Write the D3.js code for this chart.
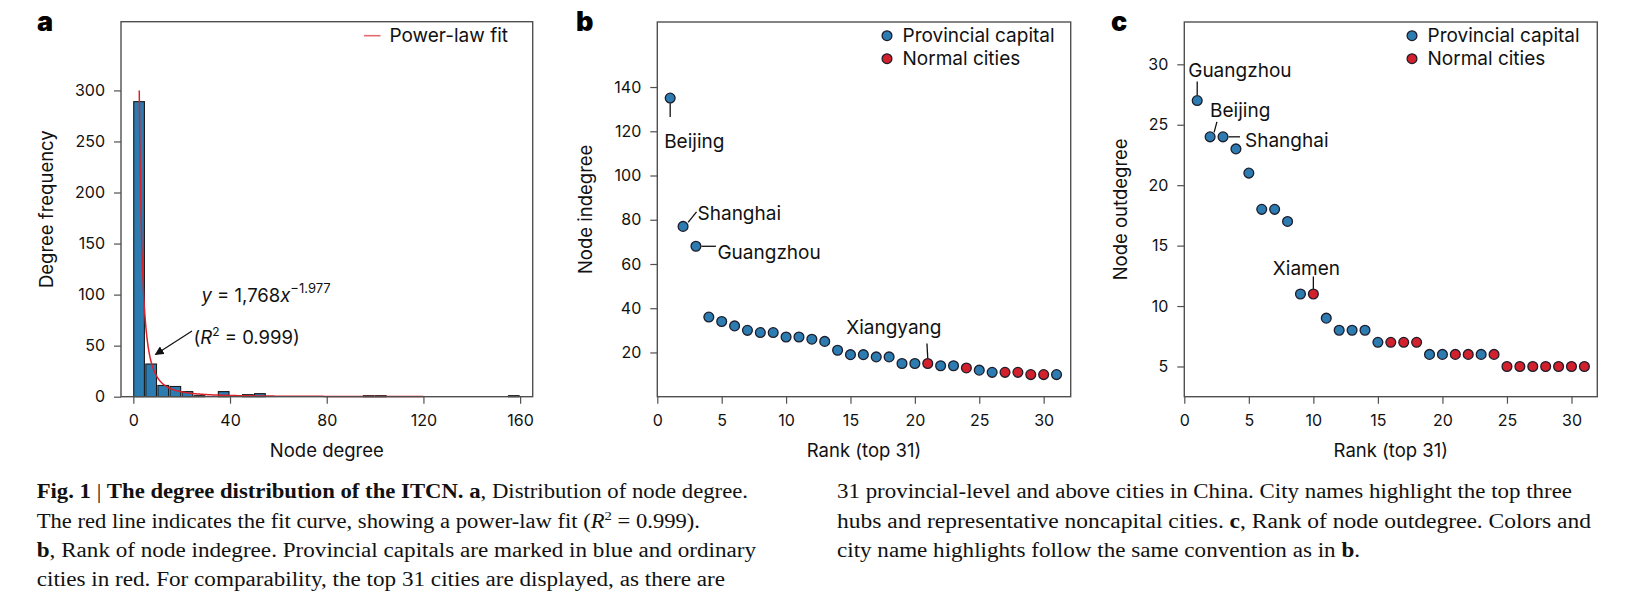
<!DOCTYPE html>
<html>
<head>
<meta charset="utf-8">
<script src="https://cdn.jsdelivr.net/npm/d3@7"></script>
<style>
  body { margin: 0; background: #fff; }
  svg { display: block; font-family: Inter, "Noto Sans", sans-serif; }
</style>
</head>
<body>
<svg id="fig" width="1625" height="601"></svg>
<script>
// ---- data ----
const binStarts = d3.range(0, 160, 5);   // bin width 5
const binCounts = [289, 32, 11, 10, 5, 1, 0, 5, 0, 2, 3, 0, 0, 0, 0, 0,
                   0, 0, 0, 1, 1, 0, 0, 0, 0, 0, 0, 0, 0, 0, 0, 1];
const fitCoef = 1768, fitExp = -1.977;
const fitTop = 300, fitEnd = 120;

const ranks = d3.range(1, 32);
const indegree = [135, 77, 68, 36, 34, 32, 30, 29, 29, 27, 27, 26, 25, 21, 19, 19,
                  18, 18, 15, 15, 15, 14, 14, 13, 12, 11, 11, 11, 10, 10, 10];
const indegreeType = ["P","P","P","P","P","P","P","P","P","P","P","P","P","P","P","P",
                      "P","P","P","P","N","P","P","N","P","P","N","N","N","N","P"];
const outdegree = [27, 24, 24, 23, 21, 18, 18, 17, 11, 11, 9, 8, 8, 8, 7, 7,
                   7, 7, 6, 6, 6, 6, 6, 6, 5, 5, 5, 5, 5, 5, 5];
const outdegreeType = ["P","P","P","P","P","P","P","P","P","N","P","P","P","P","P","N",
                       "N","N","P","P","N","N","P","N","N","N","N","N","N","N","N"];

const xTicksA = [0, 40, 80, 120, 160];
const yTicksA = [0, 50, 100, 150, 200, 250, 300];
const xTicksRank = [0, 5, 10, 15, 20, 25, 30];
const yTicksB = [20, 40, 60, 80, 100, 120, 140];
const yTicksC = [5, 10, 15, 20, 25, 30];

const labelsB = [
  { name: "Beijing", rank: 1 }, { name: "Shanghai", rank: 2 },
  { name: "Guangzhou", rank: 3 }, { name: "Xiangyang", rank: 21 }
];
const labelsC = [
  { name: "Guangzhou", rank: 1 }, { name: "Beijing", rank: 2 },
  { name: "Shanghai", rank: 3 }, { name: "Xiamen", rank: 10 }
];

// ---- styling / layout ----
const BLUE = "#2c7bb1", RED = "#d2202c", EDGE = "#1d1d2b", FRAME = "#505050";
// leader line (x1,y1,x2,y2) and text anchor offsets relative to the point
const labelOffsetB = {
  Beijing:   { l: [0, 5.5, 0, 19], t: [-6, 50] },
  Shanghai:  { l: [5, -4, 13.5, -14.5], t: [14.5, -6.5] },
  Guangzhou: { l: [5.5, 0, 20, 0], t: [21.5, 12.5] },
  Xiangyang: { l: [-0.8, -20, 0, -5.5], t: [-81.5, -30] }
};
const labelOffsetC = {
  Guangzhou: { l: [0, -19, 0, -5.5], t: [-9, -23.5] },
  Beijing:   { l: [4, -4.5, 6.8, -15], t: [0, -19.5] },
  Shanghai:  { l: [5.5, 0, 17, 0], t: [22, 10] },
  Xiamen:    { l: [0, -17.5, 0, -5], t: [-40.5, -19] }
};

const svg = d3.select("#fig");

function frame(x0, x1, y0, y1) {
  svg.append("rect")
    .attr("x", x0).attr("y", y1)
    .attr("width", x1 - x0).attr("height", y0 - y1)
    .attr("fill", "none").attr("stroke", FRAME).attr("stroke-width", 1.4);
}

function axes(x, y, xt, yt) {
  const [bx0, bx1] = x.range();
  const [by0] = y.range();
  const gx = svg.append("g").attr("transform", `translate(0,${by0})`)
    .call(d3.axisBottom(x).tickValues(xt).tickSize(7).tickPadding(11).tickSizeOuter(0));
  const gy = svg.append("g").attr("transform", `translate(${bx0},0)`)
    .call(d3.axisLeft(y).tickValues(yt).tickSize(7).tickPadding(9).tickSizeOuter(0));
  [gx, gy].forEach(g => {
    g.select(".domain").remove();
    g.selectAll("line").attr("stroke", FRAME).attr("stroke-width", 1.2);
    g.selectAll("text").attr("font-family", "Inter, sans-serif")
      .attr("font-size", 16).attr("fill", "#111");
  });
}

function titles(x, y, xlabel, ylabel, yLabelX, letter, letterX) {
  const [bx0, bx1] = x.range();
  const [by0, by1] = y.range();
  svg.append("text").attr("x", (bx0 + bx1) / 2).attr("y", 456.5)
    .attr("text-anchor", "middle").attr("font-size", 18.5).attr("fill", "#111")
    .text(xlabel);
  svg.append("text")
    .attr("transform", `translate(${yLabelX},${(by0 + by1) / 2}) rotate(-90)`)
    .attr("text-anchor", "middle").attr("font-size", 18.5).attr("fill", "#111")
    .text(ylabel);
  svg.append("text").attr("x", letterX).attr("y", 31)
    .attr("font-size", 27).attr("font-weight", 900).attr("fill", "#000")
    .text(letter);
}

// ================= panel a =================
const xA = d3.scaleLinear().domain([-5.1, 165.2]).range([121, 532.7]);
const yA = d3.scaleLinear().domain([0, 367.3]).range([396.7, 21.7]);

const histData = binStarts.map((b, i) => ({ x0: b, x1: b + 5, n: binCounts[i] }));
svg.append("g").selectAll("rect")
  .data(histData.filter(d => d.n > 0))
  .join("rect")
  .attr("x", d => xA(d.x0) + 0.4)
  .attr("width", d => xA(d.x1) - xA(d.x0) - 1.4)
  .attr("y", d => yA(d.n))
  .attr("height", d => yA(0) - yA(d.n))
  .attr("fill", BLUE).attr("stroke", "#1a1a1a").attr("stroke-width", 1.1);

// power-law fit curve
const fitStart = Math.pow(fitTop / fitCoef, 1 / fitExp);
const fitXs = d3.range(0, 301).map(i => fitStart * Math.pow(fitEnd / fitStart, i / 300));
svg.append("path")
  .datum(fitXs)
  .attr("d", d3.line().x(d => xA(d)).y(d => yA(fitCoef * Math.pow(d, fitExp))))
  .attr("fill", "none").attr("stroke", "#d8232c").attr("stroke-width", 1.5);

frame(121, 532.7, 396.7, 21.7);
axes(xA, yA, xTicksA, yTicksA);
titles(xA, yA, "Node degree", "Degree frequency", 53, "a", 37);

// legend a
svg.append("line").attr("x1", 364).attr("x2", 380.5).attr("y1", 35.7).attr("y2", 35.7)
  .attr("stroke", "#e46a70").attr("stroke-width", 1.6);
svg.append("text").attr("x", 389.5).attr("y", 42).attr("font-size", 19).attr("fill", "#111")
  .text("Power-law fit");

// equation annotation
const eq = svg.append("text").attr("x", 201.5).attr("y", 302).attr("font-size", 18.5).attr("fill", "#111");
eq.append("tspan").attr("font-style", "italic").text("y");
eq.append("tspan").text(" = 1,768");
eq.append("tspan").attr("font-style", "italic").text("x");
eq.append("tspan").attr("dy", -9).attr("font-size", 13).text("\u22121.977");

const r2 = svg.append("text").attr("x", 193.5).attr("y", 343.5).attr("font-size", 18.5).attr("fill", "#111");
r2.append("tspan").text("(");
r2.append("tspan").attr("font-style", "italic").text("R");
r2.append("tspan").attr("dy", -8).attr("font-size", 12).text("2");
r2.append("tspan").attr("dy", 8).text(" = 0.999)");

svg.append("defs").append("marker")
  .attr("id", "arrowHead").attr("viewBox", "0 0 10 10")
  .attr("refX", 9).attr("refY", 5).attr("markerWidth", 9).attr("markerHeight", 9)
  .attr("markerUnits", "userSpaceOnUse").attr("orient", "auto")
  .append("path").attr("d", "M0,0 L10,5 L0,10 z").attr("fill", "#111");
svg.append("line").attr("x1", 192).attr("y1", 331).attr("x2", 155.5).attr("y2", 354.5)
  .attr("stroke", "#111").attr("stroke-width", 1.2).attr("marker-end", "url(#arrowHead)");

// ================= rank panels =================
function rankPanel(opts) {
  const { x, y, values, types, labels, offsets } = opts;
  const pts = ranks.map((r, i) => ({ r, v: values[i], t: types[i] }));

  // leader lines + labels
  labels.forEach(lb => {
    const p = pts[lb.rank - 1];
    const px = x(p.r), py = y(p.v);
    const o = offsets[lb.name];
    svg.append("line")
      .attr("x1", px + o.l[0]).attr("y1", py + o.l[1])
      .attr("x2", px + o.l[2]).attr("y2", py + o.l[3])
      .attr("stroke", "#111").attr("stroke-width", 1.3);
    svg.append("text").attr("x", px + o.t[0]).attr("y", py + o.t[1])
      .attr("font-size", 19).attr("fill", "#111").text(lb.name);
  });

  svg.append("g").selectAll("circle")
    .data(pts).join("circle")
    .attr("cx", d => x(d.r)).attr("cy", d => y(d.v)).attr("r", 4.9)
    .attr("fill", d => d.t === "P" ? BLUE : RED)
    .attr("stroke", EDGE).attr("stroke-width", 1.3);

  const [bx0, bx1] = x.range();
  const [by0, by1] = y.range();
  frame(bx0, bx1, by0, by1);
  axes(x, y, xTicksRank, opts.yTicks);
  titles(x, y, "Rank (top 31)", opts.ylabel, opts.yLabelX, opts.letter, opts.letterX);

  // legend
  const leg = [["Provincial capital", BLUE], ["Normal cities", RED]];
  leg.forEach((d, i) => {
    svg.append("circle").attr("cx", opts.legX).attr("cy", 35.7 + i * 23).attr("r", 4.9)
      .attr("fill", d[1]).attr("stroke", EDGE).attr("stroke-width", 1.3);
    svg.append("text").attr("x", opts.legX + 15.5).attr("y", 42.2 + i * 23)
      .attr("font-size", 19).attr("fill", "#111").text(d[0]);
  });
}

rankPanel({
  x: d3.scaleLinear().domain([0, 32.1]).range([657.3, 1070.7]),
  y: d3.scaleLinear().domain([0, 169.4]).range([396.7, 22]),
  values: indegree, types: indegreeType, labels: labelsB, offsets: labelOffsetB,
  yTicks: yTicksB, ylabel: "Node indegree", yLabelX: 592, letter: "b", letterX: 576,
  legX: 887
});
rankPanel({
  x: d3.scaleLinear().domain([0, 32]).range([1184.3, 1597.3]),
  y: d3.scaleLinear().domain([2.5, 33.5]).range([396.7, 22]),
  values: outdegree, types: outdegreeType, labels: labelsC, offsets: labelOffsetC,
  yTicks: yTicksC, ylabel: "Node outdegree", yLabelX: 1127, letter: "c", letterX: 1111,
  legX: 1412
});

// ================= caption =================
const captionLines = [
  { x: 36.7, y: 497.7, end: 748, parts: [
    ["Fig. 1", "b"], [" | ", ""], ["The degree distribution of the ITCN. a", "b"],
    [", Distribution of node degree.", ""]] },
  { x: 36.7, y: 527.7, end: 700, parts: [
    ["The red line indicates the fit curve, showing a power-law fit (", ""], ["R", "i"],
    ["2", "sup"], [" = 0.999).", ""]] },
  { x: 36.7, y: 556.7, end: 756, parts: [
    ["b", "b"], [", Rank of node indegree. Provincial capitals are marked in blue and ordinary", ""]] },
  { x: 36.7, y: 585.5, end: 725, parts: [
    ["cities in red. For comparability, the top 31 cities are displayed, as there are", ""]] },
  { x: 837, y: 497.7, end: 1572, parts: [
    ["31 provincial-level and above cities in China. City names highlight the top three", ""]] },
  { x: 837, y: 527.7, end: 1591, parts: [
    ["hubs and representative noncapital cities. ", ""], ["c", "b"],
    [", Rank of node outdegree. Colors and", ""]] },
  { x: 837, y: 556.7, end: 1360, parts: [
    ["city name highlights follow the same convention as in ", ""], ["b", "b"], [".", ""]] }
];

captionLines.forEach(line => {
  const t = svg.append("text")
    .attr("x", line.x).attr("y", line.y)
    .attr("font-family", "'Liberation Serif', 'DejaVu Serif', serif")
    .attr("font-size", 20).attr("fill", "#111")
    .attr("textLength", line.end - line.x).attr("lengthAdjust", "spacingAndGlyphs");
  let raised = false;
  line.parts.forEach(([s, style]) => {
    const sp = t.append("tspan").text(s);
    if (style === "b") sp.attr("font-weight", "bold");
    if (style === "i") sp.attr("font-style", "italic");
    if (style === "sup") { sp.attr("font-size", 13).attr("dy", -8); raised = true; }
    else if (raised) { sp.attr("dy", 8); raised = false; }
  });
});
</script>
</body>
</html>
